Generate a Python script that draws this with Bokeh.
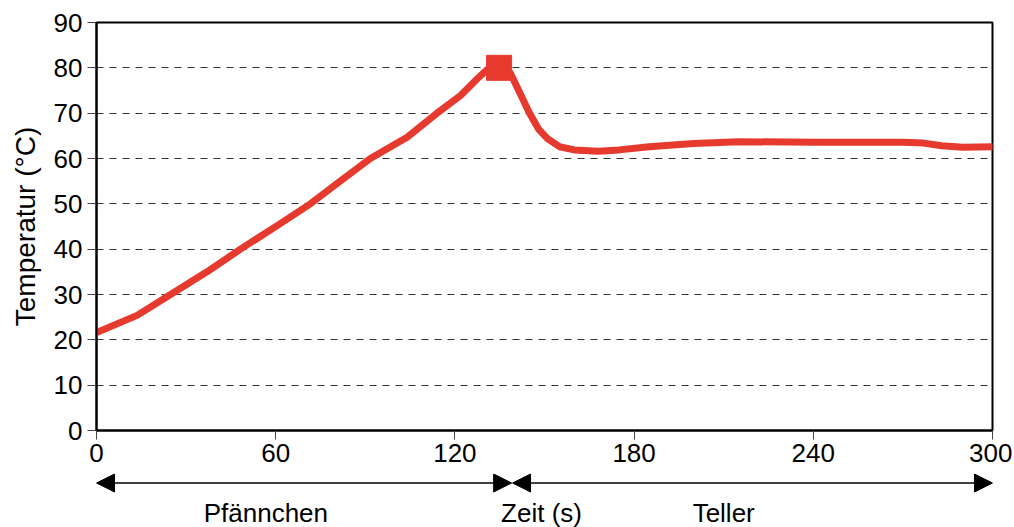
from bokeh.plotting import figure
from bokeh.models import Range1d, FixedTicker, Arrow, NormalHead, Label
from bokeh.layouts import column
from bokeh.embed import file_html
from bokeh.resources import INLINE

# --- data ---
time_s = [0, 13.6, 24.8, 37, 48.2, 60.5, 71.6, 81, 91.7, 104, 114, 121.9, 127.5, 130.8, 134.8,
          138.6, 141, 145, 148, 151, 155, 160, 168, 175, 185, 200, 215, 240, 270, 277, 283, 290, 300]
temp_c = [21.6, 25.4, 30, 35, 40, 45.2, 50, 54.7, 60, 64.7, 70, 73.9, 77.6, 79.6, 80,
          78.8, 75.5, 70, 66.5, 64.4, 62.6, 61.9, 61.6, 61.9, 62.6, 63.3, 63.7, 63.6, 63.6, 63.4, 62.8, 62.5, 62.6]
peak_time = [134.8]
peak_temp = [80]
x_ticks = [0, 60, 120, 180, 240, 300]
y_ticks = [0, 10, 20, 30, 40, 50, 60, 70, 80, 90]
phase_labels = ["Pfännchen", "Zeit (s)", "Teller"]
phase_centers = [56.7, 149.0, 210]
phase_bounds = [(0, 139.0), (139.3, 300)]

RED = "#E63A2E"
FONT = "Liberation Sans"
FS = "26px"
LEFT = 96
RIGHT = 20
W = 1012

p = figure(width=W, height=473, output_backend="svg", toolbar_location=None,
           x_range=Range1d(0, 300), y_range=Range1d(0, 90),
           min_border_left=LEFT, min_border_right=RIGHT, min_border_top=22, min_border_bottom=43)

p.line(time_s, temp_c, line_color=RED, line_width=7, line_join="round", line_cap="round")
p.scatter(peak_time, peak_temp, marker="square", size=25, fill_color=RED, line_color=RED)

for ax in (p.xaxis[0], p.yaxis[0]):
    ax.axis_line_color = "black"
    ax.axis_line_width = 2
    ax.major_tick_line_color = "#444444"
    ax.major_tick_line_width = 1
    ax.major_tick_out = 9
    ax.major_tick_in = 0
    ax.minor_tick_line_color = None
    ax.major_label_text_font = FONT
    ax.major_label_text_font_size = FS
    ax.major_label_text_color = "black"
    ax.axis_label_text_font = FONT
    ax.axis_label_text_font_size = "28px"
    ax.axis_label_text_font_style = "normal"
    ax.axis_label_text_color = "black"

p.xaxis.ticker = FixedTicker(ticks=x_ticks)
p.yaxis.ticker = FixedTicker(ticks=y_ticks)
p.xaxis.major_label_standoff = 4
p.yaxis.major_label_standoff = 5
p.yaxis.axis_label = "Temperatur (°C)"
p.yaxis.axis_label_standoff = 10

p.xgrid.grid_line_color = None
p.ygrid.grid_line_color = "#333333"
p.ygrid.grid_line_dash = "7 6"
p.ygrid.grid_line_width = 1.2

p.outline_line_color = "black"
p.outline_line_width = 2
p.outline_line_alpha = 1

# strip below the chart: phase arrows and labels, sharing the time axis
SH = 54
s = figure(width=W, height=SH, output_backend="svg", toolbar_location=None,
           x_range=p.x_range, y_range=Range1d(0, SH),
           min_border_left=LEFT, min_border_right=RIGHT, min_border_top=0, min_border_bottom=0)
s.axis.visible = False
s.grid.grid_line_color = None
s.outline_line_color = None

arrow_y = SH - 9.5
for (a, b) in phase_bounds:
    s.add_layout(Arrow(start=NormalHead(size=18, fill_color="black", line_color="black"),
                       end=NormalHead(size=18, fill_color="black", line_color="black"),
                       x_start=a, y_start=arrow_y, x_end=b, y_end=arrow_y,
                       line_color="black", line_width=1.5))
for lab, cx in zip(phase_labels, phase_centers):
    s.add_layout(Label(x=cx, y=14.5, text=lab, text_align="center", text_baseline="middle",
                       text_font=FONT, text_font_size=FS, text_color="black"))

layout = column(p, s, spacing=0)
open("out.html", "w").write(file_html(layout, INLINE))
